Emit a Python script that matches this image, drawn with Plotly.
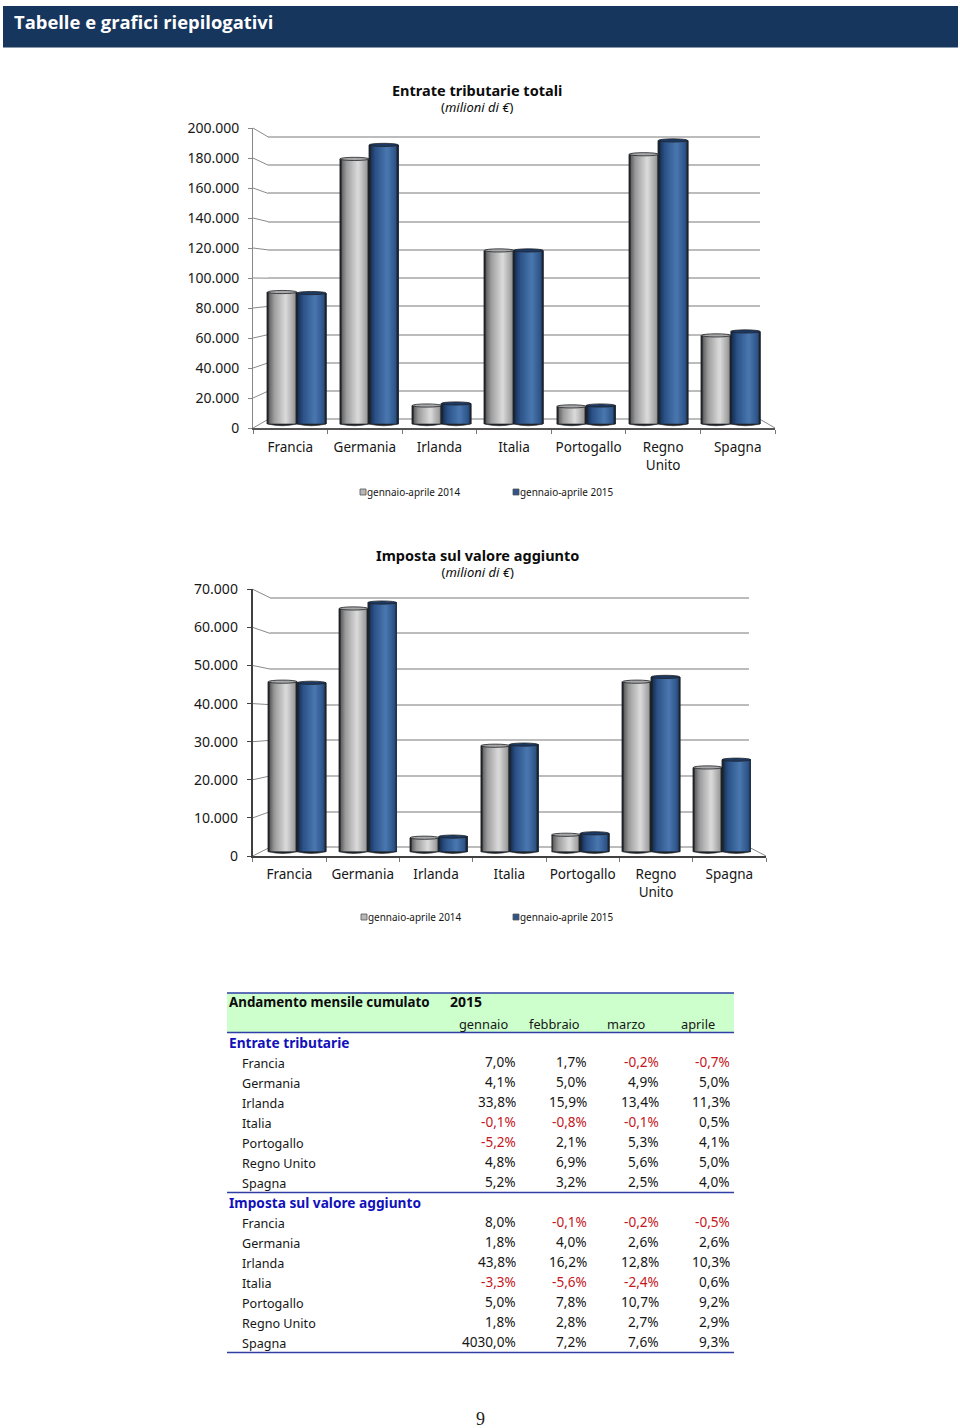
import plotly.graph_objects as go

W, H = 960, 1428
categories = ["Francia", "Germania", "Irlanda", "Italia", "Portogallo", "Regno<br>Unito", "Spagna"]
series_names = ["gennaio-aprile 2014", "gennaio-aprile 2015"]

entrate_2014 = [90700, 182200, 12700, 119300, 12100, 185400, 60900]
entrate_2015 = [90000, 191800, 14100, 119300, 12700, 194900, 63600]
iva_2014 = [46200, 66100, 3800, 28800, 4600, 46200, 22900]
iva_2015 = [45900, 67700, 4100, 29100, 5000, 47500, 25000]

table_countries = ["Francia", "Germania", "Irlanda", "Italia", "Portogallo", "Regno Unito", "Spagna"]
table_months = ["gennaio", "febbraio", "marzo", "aprile"]
entrate_gen = ["7,0%", "4,1%", "33,8%", "-0,1%", "-5,2%", "4,8%", "5,2%"]
entrate_feb = ["1,7%", "5,0%", "15,9%", "-0,8%", "2,1%", "6,9%", "3,2%"]
entrate_mar = ["-0,2%", "4,9%", "13,4%", "-0,1%", "5,3%", "5,6%", "2,5%"]
entrate_apr = ["-0,7%", "5,0%", "11,3%", "0,5%", "4,1%", "5,0%", "4,0%"]
iva_gen = ["8,0%", "1,8%", "43,8%", "-3,3%", "5,0%", "1,8%", "4030,0%"]
iva_feb = ["-0,1%", "4,0%", "16,2%", "-5,6%", "7,8%", "2,8%", "7,2%"]
iva_mar = ["-0,2%", "2,6%", "12,8%", "-2,4%", "10,7%", "2,7%", "7,6%"]
iva_apr = ["-0,5%", "2,6%", "10,3%", "0,6%", "9,2%", "2,9%", "9,3%"]

FONT = "Noto Sans"
INK = "#161616"
fx = lambda p: p / W
fy = lambda p: 1 - p / H
shapes, annotations = [], []
fig = go.Figure()


def text(x, y, s, size=14, color=INK, bold=False, anchor="left", family=FONT):
    annotations.append(dict(
        x=fx(x), y=fy(y), xref="paper", yref="paper", text=f"<b>{s}</b>" if bold else s,
        showarrow=False, xanchor=anchor, yanchor="middle", xshift=0, yshift=0,
        font=dict(family=family, size=size, color=color), borderpad=0, borderwidth=0))


def pline(x0, y0, x1, y1, color, width=1):
    shapes.append(dict(type="line", xref="paper", yref="paper", x0=fx(x0), y0=fy(y0), x1=fx(x1), y1=fy(y1),
                       line=dict(color=color, width=width), layer="below"))


def hexmix(a, b, t):
    pa = [int(a[i:i + 2], 16) for i in (1, 3, 5)]
    pb = [int(b[i:i + 2], 16) for i in (1, 3, 5)]
    return "#" + "".join(f"{round(u + (v - u) * t):02x}" for u, v in zip(pa, pb))


def ramp(stops, t):
    for (t0, c0), (t1, c1) in zip(stops, stops[1:]):
        if t <= t1:
            return hexmix(c0, c1, (t - t0) / (t1 - t0))
    return stops[-1][1]


GREY = [(0, "#4c4c4c"), (0.22, "#9c9c9c"), (0.62, "#dcdcdc"), (1, "#8e8e8e")]
BLUE = [(0, "#122848"), (0.22, "#2c5288"), (0.62, "#4a78b0"), (1, "#24497c")]
EDGE = "#1f2227"
N = 24


def chart(idx, vals_a, vals_b, vmax, step, front, back, bars, axis_style, title, tit_y, leg_y, leg_x, label_shift):
    ax = [f"{idx + k}" if idx + k > 1 else "" for k in range(3)]
    xn = lambda k: "xaxis" + ax[k]
    yn = lambda k: "yaxis" + ax[k]
    xr = lambda k: "x" + ax[k]
    yr = lambda k: "y" + ax[k]
    ticks = list(range(0, vmax + 1, step))

    # front plane: tick labels and category labels
    fig.add_trace(go.Scatter(x=categories, y=[0] * 7, mode="none", xaxis=xr(0), yaxis=yr(0), showlegend=False, hoverinfo="skip"))
    fig.update_layout({
        xn(0): dict(domain=[fx(front[0]), fx(front[1])], type="category", categoryorder="array", categoryarray=categories,
                    range=[-0.5, 6.5], tickson="boundaries", ticks="outside", ticklen=4, tickwidth=1, tickcolor="#777777",
                    showline=True, linecolor=axis_style[2], linewidth=axis_style[3], showgrid=False, anchor=yr(0),
                    tickangle=0, ticklabelstandoff=label_shift, tickfont=dict(family=FONT, size=13.5, color=INK), fixedrange=True, automargin=False),
        yn(0): dict(domain=[fy(front[2]), fy(front[3])], range=[0, vmax], tickvals=ticks, tickformat=",d", ticks="outside", ticklen=4,
                    tickcolor=axis_style[0], showline=True, linecolor=axis_style[0], linewidth=axis_style[1], showgrid=False, zeroline=False,
                    anchor=xr(0), ticklabelstandoff=6, tickfont=dict(family=FONT, size=14, color=INK), fixedrange=True, automargin=False),
    })
    # back wall: gridlines (range padded a little so the end lines are kept)
    bpx = lambda v: back[2] + (back[3] - back[2]) * v / vmax
    pad = vmax * 0.01
    fig.add_trace(go.Scatter(x=[0], y=[0], mode="none", xaxis=xr(1), yaxis=yr(1), showlegend=False, hoverinfo="skip"))
    fig.update_layout({
        xn(1): dict(domain=[fx(back[0]), fx(back[1])], range=[0, 1], showticklabels=False, ticks="", showgrid=False, zeroline=False,
                    showline=False, anchor=yr(1), fixedrange=True),
        yn(1): dict(domain=[fy(bpx(-pad)), fy(bpx(vmax + pad))], range=[-pad, vmax + pad], tickvals=ticks, showticklabels=False, ticks="",
                    showgrid=True, gridcolor="#bcbcbc", gridwidth=2, zeroline=False, showline=False, anchor=xr(1), fixedrange=True),
    })
    # slanted side wall and floor edge, derived from the two planes
    fpx = lambda v: front[2] + (front[3] - front[2]) * v / vmax
    for v in ticks:
        pline(front[0], fpx(v), back[0], bpx(v), "#8a8a8a", 1)
    pline(back[1], bpx(0), front[1], fpx(0), "#8a8a8a", 1)

    # bar plane
    bx0, bx1, zero_px, per_unit, bot_px = bars
    low = -(bot_px - zero_px) / per_unit
    high = (zero_px - 100) / per_unit
    top_px = zero_px - high * per_unit
    fig.update_layout({
        xn(2): dict(domain=[fx(bx0), fx(bx1)], type="category", categoryorder="array", categoryarray=categories, range=[-0.5, 6.5],
                    showticklabels=False, ticks="", showgrid=False, showline=False, zeroline=False, anchor=yr(2), fixedrange=True),
        yn(2): dict(domain=[fy(bot_px), fy(top_px)], range=[low, high], showticklabels=False, ticks="", showgrid=False, showline=False,
                    zeroline=False, anchor=xr(2), fixedrange=True),
    })
    w = 0.404
    cap = 1.6 / per_unit
    edge_w = 0.8 / ((bx1 - bx0) / 7)
    for s, (vals, stops) in enumerate(((vals_a, GREY), (vals_b, BLUE))):
        base = -w + s * w
        for i in range(N):
            # every strip runs to the right edge of the bar, so later strips paint over without seams
            fig.add_trace(go.Bar(x=categories, y=vals, width=w - i * w / N, offset=base + i * w / N,
                                 marker=dict(color=ramp(stops, (i + 0.5) / N), line=dict(width=0)),
                                 xaxis=xr(2), yaxis=yr(2), showlegend=False, hoverinfo="skip"))
        for off in (base, base + w - edge_w):
            fig.add_trace(go.Bar(x=categories, y=vals, width=edge_w, offset=off,
                                 marker=dict(color=EDGE, line=dict(width=0)),
                                 xaxis=xr(2), yaxis=yr(2), showlegend=False, hoverinfo="skip"))
        capfill = "#a8a8a8" if s == 0 else "#1b3963"
        for c, v in enumerate(vals):
            shapes.append(dict(type="circle", xref=xr(2), yref=yr(2), x0=c + base, x1=c + base + w, y0=v - cap, y1=v + cap,
                               fillcolor=capfill, line=dict(color=EDGE, width=0.8), layer="above"))
            shapes.append(dict(type="path", xref=xr(2), yref=yr(2),
                               path=f"M {c + base},0 Q {c + base + w / 2},{-2.2 * cap} {c + base + w},0 Z",
                               fillcolor=EDGE, line=dict(color=EDGE, width=0.6), layer="above"))
    # title and legend
    size_base = 12.3
    annotations.append(dict(x=fx(477), y=fy(tit_y), xref="paper", yref="paper", showarrow=False, xanchor="center", yanchor="middle",
                            align="center", borderpad=0, font=dict(family=FONT, size=size_base, color="#0c0c0c"),
                            text=f'<span style="font-size:14.5px"><b>{title}</b></span><br>'
                                 '<span style="font-size:13px">(<i>milioni di €</i>)</span>'))
    for name, lx, col in zip(series_names, leg_x, ("#b8b8b8", "#2f5488")):
        shapes.append(dict(type="rect", xref="paper", yref="paper", x0=fx(lx), x1=fx(lx + 6), y0=fy(leg_y + 3), y1=fy(leg_y - 3),
                           fillcolor=col, line=dict(color="#555555", width=0.8), layer="above"))
        text(lx + 7, leg_y, name, size=9.95)


chart(1, entrate_2014, entrate_2015, 200000, 20000,
      (253, 775, 428, 128), (268.3, 760, 419.3, 137),
      (260.6, 766.9, 424, 29.1 / 20000, 428), ("#888888", 1, "#555555", 1.5),
      "Entrate tributarie totali", 98.5, 492, (360, 513), 6)
chart(4, iva_2014, iva_2015, 70000, 10000,
      (252.7, 766, 856, 589.3), (270, 749.3, 847.3, 597.7),
      (261.6, 757.4, 851.7, 36.8 / 10000, 856), ("#404040", 2, "#404040", 1.5),
      "Imposta sul valore aggiunto", 563, 917, (361, 513), 5)

# header band
shapes.append(dict(type="rect", xref="paper", yref="paper", x0=fx(3), x1=fx(958), y0=fy(47.5), y1=fy(6),
                   fillcolor="#17365d", line=dict(width=0), layer="below"))
text(14, 21.5, "Tabelle e grafici riepilogativi", size=18.4, color="#ffffff", bold=True, family="Open Sans")

# table
shapes.append(dict(type="rect", xref="paper", yref="paper", x0=fx(227), x1=fx(734), y0=fy(1032), y1=fy(993),
                   fillcolor="#ccffcc", line=dict(width=0), layer="below"))
for y_line in (993, 1032.5, 1192.5, 1352.5):
    shapes.append(dict(type="line", xref="paper", yref="paper", x0=fx(227), x1=fx(734), y0=fy(y_line), y1=fy(y_line),
                       line=dict(color="#2f3fa6", width=1.6), layer="above"))
text(229, 1002, "Andamento mensile cumulato", size=13.35, bold=True, color="#0c0c0c")
text(450, 1002, "2015", size=14, bold=True, color="#0c0c0c")
for m, cx in zip(table_months, (483, 554, 626, 698)):
    text(cx, 1024, m, size=12.8, anchor="center")
col_x = (516, 587, 659, 730)


def section(y0, heading, columns):
    text(229, y0 - 1, heading, size=13.7, bold=True, color="#1111bb")
    for r, name in enumerate(table_countries):
        y = y0 + 20 + 20 * r
        text(242, y + 0.2, name, size=12.6)
        for col, cx in zip(columns, col_x):
            v = col[r]
            text(cx, y - 1.5, v, size=13.6, anchor="right", color="#c4161c" if v.startswith("-") else INK)


section(1043, "Entrate tributarie", (entrate_gen, entrate_feb, entrate_mar, entrate_apr))
section(1203, "Imposta sul valore aggiunto", (iva_gen, iva_feb, iva_mar, iva_apr))

text(480.5, 1419, "9", size=18, anchor="center", family="Liberation Serif", color="#222222")

fig.update_layout(width=W, height=H, autosize=False, margin=dict(l=0, r=0, t=0, b=0), paper_bgcolor="white", plot_bgcolor="rgba(0,0,0,0)",
                  barmode="overlay", separators=",.", showlegend=False, shapes=shapes, annotations=annotations,
                  hovermode=False, font=dict(family=FONT))
fig.write_html("out.html", config=dict(displayModeBar=False),
               post_script="document.body.style.margin='0';document.documentElement.style.overflow='hidden';")
